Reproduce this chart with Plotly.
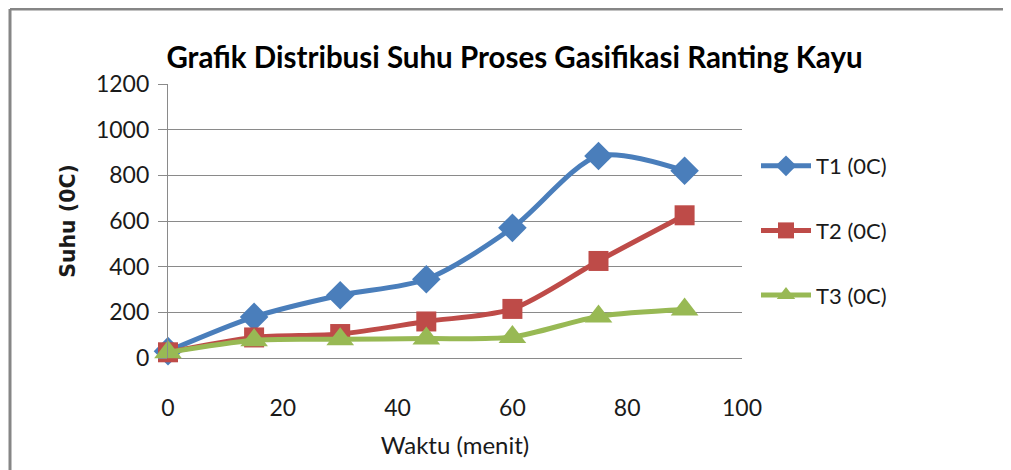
import plotly.graph_objects as go

waktu = [0, 15, 30, 45, 60, 75, 90]
t1 = [30, 180, 275, 345, 570, 885, 820]
t2 = [25, 90, 105, 160, 215, 425, 625]
t3 = [25, 78, 82, 85, 92, 182, 212]
names = ["T1 (0C)", "T2 (0C)", "T3 (0C)"]
colors = ["#4A7EBB", "#BE4B48", "#98B954"]
symbols = ["diamond", "square", "triangle-up"]
msizes = [22, 20, 24]

FONT = "Lato, Open Sans, sans-serif"
OFF = 8  # page body margin

fig = go.Figure()
for i, (y, n, c, s, ms) in enumerate(zip([t1, t2, t3], names, colors, symbols, msizes)):
    fig.add_trace(go.Scatter(
        x=waktu, y=y, name=n, mode="lines+markers", legendgroup=f"g{i}",
        line=dict(color=c, width=5, shape="spline", smoothing=0.8),
        marker=dict(symbol=s, size=ms, color=c),
        cliponaxis=False,
    ))

# screen coordinates of the plot area in the reference
L, R, T, B = 168 - OFF, 742 - OFF, 84 - OFF, 358 - OFF
W, H = 1011 - OFF, 470 - OFF

def px(x):
    return (x - OFF - L) / (R - L)

def py(y):
    return (B - (y - OFF)) / (B - T)

fig.update_layout(
    width=W, height=H,
    margin=dict(l=L, r=W - R, t=T, b=H - B),
    paper_bgcolor="white", plot_bgcolor="white",
    font=dict(family=FONT, color="#1a1a1a"),
    title=dict(text="<b>Grafik Distribusi Suhu Proses Gasifikasi Ranting Kayu</b>",
               x=0.505, xanchor="center", y=1 - (58 - OFF) / H, yanchor="middle",
               font=dict(size=29.5, family=FONT, color="#000")),
    showlegend=True,
    legend=dict(x=px(756), xanchor="left", y=py(145), yanchor="top",
                font=dict(size=22, family=FONT, color="#1a1a1a"),
                itemwidth=50, tracegroupgap=33, bgcolor="rgba(0,0,0,0)"),
    xaxis=dict(range=[0, 100], dtick=20, tick0=0, showgrid=False, zeroline=False,
               showline=False, ticks="", ticklabelstandoff=34,
               tickfont=dict(size=23, family=FONT, color="#1a1a1a"),
               title=dict(text="Waktu (menit)", font=dict(size=24, family=FONT, color="#1a1a1a"), standoff=17)),
    yaxis=dict(range=[0, 1200], dtick=200, tick0=0, showgrid=True, gridcolor="#8a8a8a", gridwidth=1.3,
               zeroline=True, zerolinecolor="#8a8a8a", zerolinewidth=1.3,
               showline=True, linecolor="#8a8a8a", linewidth=1.3,
               ticks="outside", ticklen=9, tickcolor="#8a8a8a", ticklabelstandoff=4,
               tickfont=dict(size=23, family=FONT, color="#1a1a1a"),
               title=dict(text="<b>Suhu (0C)</b>", font=dict(size=20.5, family="DejaVu Sans", color="#1a1a1a"), standoff=14)),
)

fig.add_shape(type="line", xref="paper", yref="paper", x0=px(10), x1=px(1020), y0=py(9), y1=py(9),
              line=dict(color="#868686", width=3))
fig.add_shape(type="line", xref="paper", yref="paper", x0=px(10), x1=px(10), y0=py(9), y1=py(480),
              line=dict(color="#868686", width=3))

fig.write_html("out.html")
